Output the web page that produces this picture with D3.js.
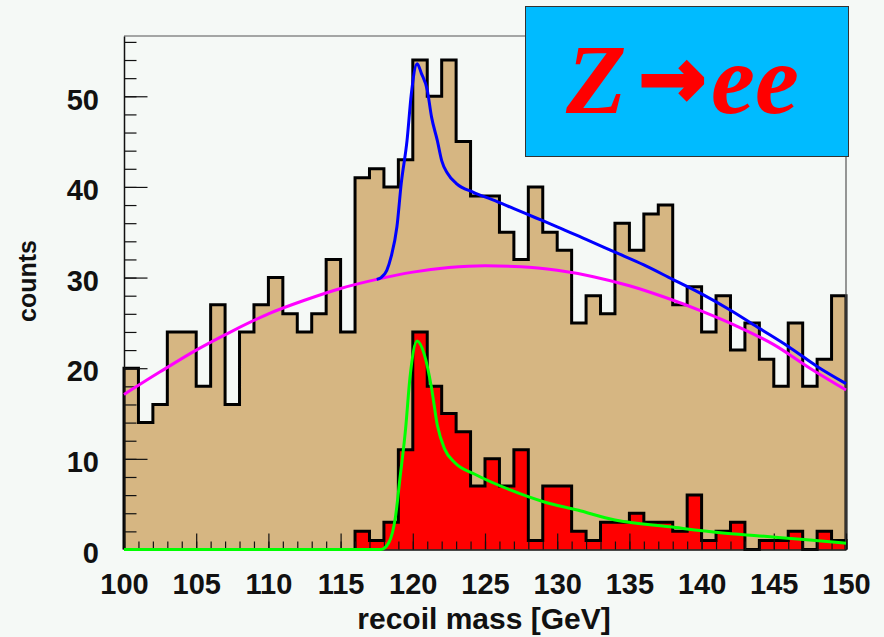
<!DOCTYPE html>
<html>
<head>
<meta charset="utf-8">
<script src="https://cdn.jsdelivr.net/npm/d3@7"></script>
<style>
  html, body { margin: 0; padding: 0; background: #F5F9F6; }
  svg { display: block; }
</style>
</head>
<body>
<svg id="chart" width="884" height="637"></svg>
<script>
// Recoil mass histogram: 1 GeV bins from 100 to 150 GeV
const binLow = d3.range(100, 150, 1);

// All selected events per bin
const totalCounts = [
  20, 14, 16, 24, 24, 18, 27, 16, 24, 27,
  30, 26, 24, 26, 32, 24, 41, 42, 40, 43,
  54, 50, 54, 45, 39, 39, 35, 32, 40, 35,
  33, 25, 28, 26, 36, 33, 37, 38, 27, 29,
  24, 28, 22, 25, 21, 18, 25, 18, 21, 28
];

// Z -> ee signal events per bin
const signalCounts = [
   0,  0,  0,  0,  0,  0,  0,  0,  0,  0,
   0,  0,  0,  0,  0,  0,  2,  1,  3, 11,
  24, 18, 15, 13,  7, 10,  7, 11,  1,  7,
   7,  2,  1,  3,  3,  4,  3,  3,  2,  6,
   1,  2,  3,  0,  1,  1,  2,  0,  2,  1
];

// Background fit (polynomial)
const bgMass   = [100, 102.5, 105, 107.5, 110, 112.5, 115, 117.5, 120, 122.5, 125, 127.5, 130, 132.5, 135, 137.5, 140, 142.5, 145, 147.5, 150];
const bgCounts = [17.1, 19.6, 22.0, 24.1, 26.0, 27.5, 28.8, 29.8, 30.6, 31.1, 31.3, 31.2, 30.8, 30.1, 29.1, 27.8, 26.3, 24.6, 22.6, 20.0, 17.6];

// Signal + background fit
const fitMass   = [117.5, 117.8, 118.2, 118.5, 118.9, 119.2, 119.6, 119.9, 120.3, 120.6, 121.0, 121.3, 121.7, 122.0, 122.4, 123.0, 124.2, 125.5, 127, 128.5, 130, 132, 134, 136, 138, 140, 142, 144, 146, 148, 150];
const fitCounts = [29.8, 30.0, 30.8, 32.3, 35.6, 40.4, 45.1, 50.3, 53.6, 52.5, 50.7, 47.7, 45.1, 42.9, 41.5, 40.4, 39.4, 38.6, 37.6, 36.6, 35.6, 34.2, 32.8, 31.4, 29.8, 28.2, 26.4, 24.4, 22.4, 20.2, 18.3];

// Signal-only fit
const sigMass   = [100, 117.8, 118.35, 118.8, 119.1, 119.5, 119.8, 120.3, 120.8, 121.3, 121.7, 122.2, 122.9, 124.3, 126.7, 129, 131.4, 134, 137.8, 141.3, 144, 147.5, 150];
const sigCounts = [0, 0, 0.8, 3.6, 7.7, 13.3, 18.9, 23.0, 21.5, 17.8, 13.7, 11.1, 9.6, 8.3, 6.6, 5.3, 4.35, 3.25, 2.5, 1.85, 1.5, 1.05, 0.7];

const xTicks = d3.range(100, 151, 5);
const yTicks = d3.range(0, 51, 10);

// ---- layout ----
const svg = d3.select("#chart");
const frame = { left: 124, right: 846, top: 36, bottom: 549.5 };

const x = d3.scaleLinear().domain([100, 150]).range([frame.left, frame.right]);
const y = d3.scaleLinear().domain([0, 56.65]).range([frame.bottom, frame.top]);

// step points for a histogram, closed down to zero at both ends
function stepPoints(counts) {
  const pts = [[binLow[0], 0]];
  counts.forEach((c, i) => pts.push([binLow[i], c]));
  pts.push([binLow[binLow.length - 1] + 1, counts[counts.length - 1]]);
  pts.push([binLow[binLow.length - 1] + 1, 0]);
  return pts;
}

const stepArea = d3.area()
  .x(d => x(d[0])).y0(y(0)).y1(d => y(d[1]))
  .curve(d3.curveStepAfter);
const stepLine = d3.line()
  .x(d => x(d[0])).y(d => y(d[1]))
  .curve(d3.curveStepAfter);

function drawHist(counts, fill) {
  const pts = stepPoints(counts);
  svg.append("path").attr("d", stepArea(pts)).attr("fill", fill);
  svg.append("path").attr("d", stepLine(pts))
    .attr("fill", "none").attr("stroke", "#000").attr("stroke-width", 3)
    .attr("stroke-linejoin", "miter");
}

drawHist(totalCounts, "#D6B682");
drawHist(signalCounts, "#FF0000");

// ---- frame and axes ----
svg.append("path")
  .attr("d", `M${frame.left},${frame.top}H${frame.right}V${frame.bottom}`)
  .attr("fill", "none").attr("stroke", "#555").attr("stroke-width", 1.2);

const labelFont = "'Liberation Sans', Arial, sans-serif";

// y axis: minor ticks every 2 counts, major every 10
svg.append("g").attr("transform", `translate(${frame.left},0)`)
  .call(d3.axisLeft(y).tickValues(d3.range(0, 57, 2)).tickSize(-12.5).tickFormat(""))
  .call(g => g.select(".domain").remove())
  .call(g => g.selectAll("line").attr("stroke", "#111").attr("stroke-width", 1.2));

svg.append("g").attr("transform", `translate(${frame.left},0)`)
  .call(d3.axisLeft(y).tickValues(yTicks).tickSize(-23.5).tickSizeOuter(0).tickPadding(25))
  .call(g => g.select(".domain").attr("stroke", "#111").attr("stroke-width", 1.5))
  .call(g => g.selectAll("line").attr("stroke", "#111").attr("stroke-width", 1.2))
  .call(g => g.selectAll("text")
    .attr("dy", "0.44em")
    .attr("fill", "#111")
    .style("font-family", labelFont).style("font-weight", "bold").style("font-size", "29px"));

// x axis: minor ticks every 1 GeV, major every 5
svg.append("g").attr("transform", `translate(0,${frame.bottom})`)
  .call(d3.axisBottom(x).tickValues(d3.range(100, 151, 1)).tickSize(-8).tickFormat(""))
  .call(g => g.select(".domain").remove())
  .call(g => g.selectAll("line").attr("stroke", "#111").attr("stroke-width", 1.2));

svg.append("g").attr("transform", `translate(0,${frame.bottom})`)
  .call(d3.axisBottom(x).tickValues(xTicks).tickSize(-16).tickSizeOuter(0).tickPadding(24))
  .call(g => g.select(".domain").attr("stroke", "#111").attr("stroke-width", 1.5))
  .call(g => g.selectAll("line").attr("stroke", "#111").attr("stroke-width", 1.2))
  .call(g => g.selectAll("text")
    .attr("fill", "#111")
    .style("font-family", labelFont).style("font-weight", "bold").style("font-size", "29px"));

// axis titles
svg.append("text")
  .attr("x", 484).attr("y", 629)
  .attr("text-anchor", "middle")
  .attr("fill", "#111")
  .style("font-family", labelFont).style("font-weight", "bold").style("font-size", "30px")
  .text("recoil mass [GeV]");

svg.append("text")
  .attr("transform", "translate(36,281) rotate(-90)")
  .attr("text-anchor", "middle")
  .attr("fill", "#111")
  .style("font-family", labelFont).style("font-weight", "bold").style("font-size", "25px")
  .text("counts");

// ---- fit curves ----
function drawCurve(xs, ys, color) {
  const line = d3.line()
    .x((d, i) => x(xs[i])).y(d => y(d))
    .curve(d3.curveMonotoneX);
  svg.append("path").attr("d", line(ys))
    .attr("fill", "none").attr("stroke", color).attr("stroke-width", 3)
    .attr("stroke-linejoin", "round");
}

drawCurve(bgMass, bgCounts, "#FF00FF");
drawCurve(fitMass, fitCounts, "#0000FF");
drawCurve(sigMass, sigCounts, "#00FF00");

// ---- channel label ----
svg.append("rect")
  .attr("x", 525.5).attr("y", 6.5).attr("width", 323).attr("height", 150)
  .attr("fill", "#00BBFF").attr("stroke", "#333").attr("stroke-width", 1);

const serif = "'Liberation Serif', 'Times New Roman', serif";
const title = svg.append("text")
  .attr("y", 113)
  .attr("fill", "#FF0000")
  .style("font-family", serif)
  .style("font-weight", "bold").style("font-style", "italic").style("font-size", "99px");
title.append("tspan").attr("x", 566).text("Z");
// arrow glyph, thickened with a same-colour outline
title.append("tspan").attr("x", 639).attr("y", 106)
  .attr("stroke", "#FF0000").attr("stroke-width", 4).attr("stroke-linejoin", "miter")
  .style("font-family", "'DejaVu Sans', sans-serif")
  .style("font-style", "normal").style("font-size", "80px")
  .text("→");
title.append("tspan").attr("x", 711).attr("y", 113).text("ee");
</script>
</body>
</html>
